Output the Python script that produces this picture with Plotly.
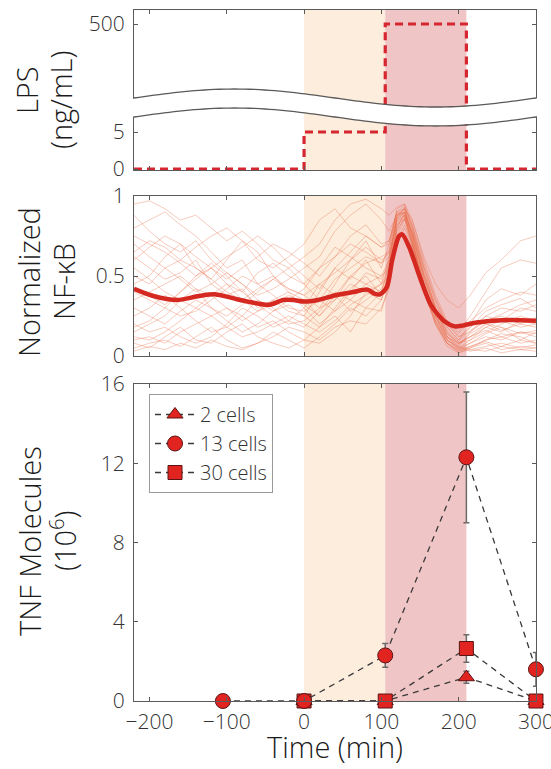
import math
import plotly.graph_objects as go

W, H = 551, 769

# ---------------- data ----------------
# LPS dose schedule (ng/mL)
lps_time = [-220, 0, 0, 105, 105, 210, 210, 300]
lps_conc = [0, 0, 5, 5, 500, 500, 0, 0]

# stimulation windows (min)
low_dose_window = [0, 105]
high_dose_window = [105, 210]

# single-cell NF-kB traces, sampled on a common time grid
cell_time = [-220, -200, -180, -160, -140, -120, -100, -80, -60, -40, -20, 0, 20, 40, 60, 80,
             100, 110, 120, 130, 140, 155, 170, 185, 200, 215, 235, 255, 280, 300]
cell_traces = [
    [0.95, 0.97, 0.92, 0.85, 0.88, 0.80, 0.72, 0.78, 0.70, 0.60, 0.55, 0.62, 0.70, 0.85, 0.95, 0.98, 0.92, 0.88, 0.93, 0.95, 0.85, 0.62, 0.45, 0.35, 0.30, 0.38, 0.52, 0.60, 0.72, 0.75],
    [0.62, 0.55, 0.48, 0.52, 0.60, 0.45, 0.38, 0.42, 0.30, 0.35, 0.28, 0.25, 0.40, 0.55, 0.48, 0.60, 0.45, 0.62, 0.88, 0.92, 0.78, 0.50, 0.28, 0.12, 0.05, 0.10, 0.18, 0.15, 0.22, 0.20],
    [0.05, 0.08, 0.10, 0.06, 0.12, 0.18, 0.10, 0.05, 0.08, 0.15, 0.10, 0.05, 0.12, 0.20, 0.30, 0.25, 0.35, 0.55, 0.82, 0.88, 0.72, 0.40, 0.20, 0.08, 0.03, 0.05, 0.08, 0.04, 0.06, 0.05],
    [0.45, 0.50, 0.62, 0.70, 0.55, 0.48, 0.60, 0.72, 0.65, 0.50, 0.42, 0.38, 0.30, 0.45, 0.60, 0.72, 0.55, 0.70, 0.90, 0.88, 0.70, 0.45, 0.25, 0.10, 0.06, 0.15, 0.25, 0.30, 0.28, 0.32],
    [0.30, 0.25, 0.20, 0.28, 0.35, 0.30, 0.22, 0.15, 0.20, 0.28, 0.32, 0.25, 0.18, 0.30, 0.42, 0.50, 0.38, 0.58, 0.85, 0.90, 0.75, 0.48, 0.30, 0.15, 0.08, 0.12, 0.20, 0.18, 0.10, 0.15],
    [0.80, 0.85, 0.90, 0.82, 0.75, 0.65, 0.55, 0.60, 0.45, 0.50, 0.40, 0.35, 0.25, 0.38, 0.50, 0.45, 0.40, 0.60, 0.86, 0.93, 0.82, 0.55, 0.30, 0.18, 0.10, 0.20, 0.35, 0.42, 0.38, 0.45],
    [0.15, 0.20, 0.25, 0.35, 0.42, 0.38, 0.30, 0.25, 0.18, 0.22, 0.15, 0.10, 0.08, 0.15, 0.25, 0.40, 0.45, 0.50, 0.78, 0.86, 0.68, 0.40, 0.22, 0.10, 0.04, 0.08, 0.12, 0.10, 0.15, 0.12],
    [0.55, 0.48, 0.40, 0.35, 0.30, 0.38, 0.45, 0.40, 0.52, 0.58, 0.50, 0.45, 0.55, 0.62, 0.70, 0.65, 0.58, 0.66, 0.92, 0.95, 0.80, 0.52, 0.32, 0.20, 0.12, 0.18, 0.25, 0.22, 0.30, 0.28],
    [0.10, 0.12, 0.08, 0.15, 0.20, 0.25, 0.30, 0.22, 0.28, 0.35, 0.40, 0.30, 0.20, 0.28, 0.35, 0.30, 0.28, 0.45, 0.75, 0.85, 0.78, 0.52, 0.30, 0.12, 0.06, 0.04, 0.06, 0.08, 0.05, 0.07],
    [0.70, 0.62, 0.55, 0.60, 0.68, 0.75, 0.80, 0.72, 0.60, 0.55, 0.62, 0.70, 0.85, 0.92, 0.80, 0.75, 0.68, 0.72, 0.90, 0.92, 0.85, 0.60, 0.38, 0.22, 0.15, 0.25, 0.40, 0.55, 0.60, 0.58],
    [0.25, 0.30, 0.38, 0.30, 0.22, 0.15, 0.18, 0.25, 0.35, 0.30, 0.22, 0.18, 0.28, 0.40, 0.35, 0.45, 0.50, 0.55, 0.80, 0.90, 0.74, 0.42, 0.20, 0.06, 0.02, 0.05, 0.10, 0.12, 0.08, 0.10],
    [0.40, 0.35, 0.30, 0.25, 0.28, 0.35, 0.42, 0.50, 0.45, 0.38, 0.30, 0.28, 0.35, 0.48, 0.55, 0.62, 0.58, 0.62, 0.84, 0.88, 0.70, 0.45, 0.25, 0.12, 0.08, 0.10, 0.15, 0.20, 0.25, 0.22],
    [0.08, 0.05, 0.12, 0.18, 0.10, 0.08, 0.15, 0.20, 0.12, 0.08, 0.05, 0.10, 0.18, 0.25, 0.15, 0.30, 0.40, 0.48, 0.72, 0.82, 0.70, 0.45, 0.25, 0.10, 0.05, 0.03, 0.05, 0.02, 0.04, 0.03],
    [0.88, 0.78, 0.70, 0.65, 0.72, 0.60, 0.52, 0.45, 0.38, 0.42, 0.48, 0.55, 0.62, 0.78, 0.88, 0.95, 0.85, 0.78, 0.88, 0.90, 0.78, 0.55, 0.35, 0.20, 0.12, 0.15, 0.22, 0.25, 0.20, 0.18],
    [0.35, 0.40, 0.45, 0.50, 0.42, 0.30, 0.25, 0.32, 0.40, 0.48, 0.55, 0.45, 0.35, 0.28, 0.40, 0.52, 0.48, 0.58, 0.86, 0.92, 0.76, 0.48, 0.28, 0.14, 0.08, 0.12, 0.18, 0.22, 0.18, 0.20],
    [0.20, 0.15, 0.18, 0.12, 0.08, 0.12, 0.20, 0.30, 0.25, 0.18, 0.22, 0.30, 0.45, 0.38, 0.28, 0.35, 0.42, 0.52, 0.80, 0.88, 0.72, 0.45, 0.22, 0.08, 0.04, 0.06, 0.10, 0.14, 0.12, 0.08],
    [0.60, 0.68, 0.75, 0.70, 0.62, 0.55, 0.48, 0.55, 0.62, 0.70, 0.65, 0.58, 0.50, 0.62, 0.75, 0.82, 0.70, 0.72, 0.90, 0.94, 0.82, 0.58, 0.36, 0.20, 0.14, 0.22, 0.30, 0.35, 0.40, 0.38],
    [0.03, 0.06, 0.04, 0.08, 0.05, 0.10, 0.06, 0.04, 0.08, 0.12, 0.18, 0.15, 0.10, 0.18, 0.22, 0.20, 0.30, 0.42, 0.70, 0.80, 0.68, 0.42, 0.22, 0.08, 0.02, 0.04, 0.03, 0.06, 0.04, 0.05],
    [0.50, 0.45, 0.55, 0.48, 0.40, 0.45, 0.52, 0.45, 0.35, 0.28, 0.35, 0.42, 0.55, 0.68, 0.62, 0.55, 0.50, 0.60, 0.86, 0.90, 0.74, 0.46, 0.26, 0.12, 0.07, 0.14, 0.20, 0.16, 0.20, 0.24],
    [0.18, 0.22, 0.30, 0.40, 0.50, 0.58, 0.50, 0.40, 0.32, 0.25, 0.20, 0.22, 0.30, 0.35, 0.45, 0.40, 0.35, 0.50, 0.78, 0.86, 0.72, 0.44, 0.24, 0.10, 0.05, 0.08, 0.14, 0.18, 0.14, 0.16],
    [0.75, 0.70, 0.65, 0.58, 0.50, 0.55, 0.62, 0.68, 0.75, 0.68, 0.58, 0.50, 0.42, 0.55, 0.65, 0.75, 0.68, 0.70, 0.88, 0.92, 0.80, 0.56, 0.34, 0.18, 0.10, 0.18, 0.28, 0.32, 0.36, 0.30],
    [0.12, 0.10, 0.15, 0.22, 0.30, 0.25, 0.18, 0.12, 0.15, 0.20, 0.25, 0.20, 0.15, 0.22, 0.32, 0.38, 0.45, 0.55, 0.82, 0.86, 0.70, 0.42, 0.20, 0.08, 0.03, 0.06, 0.09, 0.06, 0.10, 0.08],
    [0.42, 0.38, 0.32, 0.40, 0.48, 0.55, 0.45, 0.35, 0.28, 0.32, 0.38, 0.32, 0.25, 0.35, 0.50, 0.58, 0.62, 0.65, 0.88, 0.90, 0.76, 0.50, 0.30, 0.16, 0.09, 0.16, 0.22, 0.26, 0.32, 0.35],
    [0.65, 0.72, 0.68, 0.60, 0.55, 0.48, 0.40, 0.35, 0.42, 0.48, 0.42, 0.38, 0.45, 0.52, 0.60, 0.68, 0.60, 0.64, 0.84, 0.90, 0.76, 0.50, 0.30, 0.14, 0.08, 0.12, 0.16, 0.12, 0.15, 0.14],
]

# population mean NF-kB
mean_time = [-220, -195, -164, -136, -114, -91, -73, -45, -27, -14, 0, 18, 41, 64, 82, 91, 98,
             107, 114, 123, 127, 136, 150, 164, 182, 195, 205, 218, 245, 268, 300]
mean_nfkb = [0.42, 0.375, 0.35, 0.375, 0.385, 0.36, 0.34, 0.32, 0.35, 0.35, 0.34, 0.35, 0.38,
             0.40, 0.415, 0.39, 0.385, 0.43, 0.60, 0.75, 0.76, 0.68, 0.49, 0.32, 0.215, 0.185,
             0.19, 0.205, 0.22, 0.225, 0.22]

# secreted TNF (10^6 molecules)
tnf_2_time = [0, 105, 210, 300]
tnf_2_val = [0, 0, 1.2, 0]
tnf_2_err = [0, 0, 0.3, 0]

tnf_13_time = [-105, 0, 105, 210, 300]
tnf_13_val = [0, 0, 2.3, 12.3, 1.6]
tnf_13_err = [0, 0, 0.6, 3.3, 0.85]

tnf_30_time = [0, 105, 210, 300]
tnf_30_val = [0, 0, 2.65, 0]
tnf_30_err = [0, 0, 0.7, 0]

x_ticks = [-200, -100, 0, 100, 200, 300]
tnf_ticks = [0, 4, 8, 12, 16]
nfkb_ticks = [0, 0.5, 1]
nfkb_tick_text = ["0", "0.5", "1"]

# ---------------- layout helpers (pixel -> paper) ----------------
def fx(x):
    return x / W

def fy(y):
    return 1 - y / H

X_LEFT, X_RIGHT = 134, 536
FONT = "Open Sans, Liberation Sans, Arial, sans-serif"
AX_COL = "#5a5a5a"
TXT_COL = "#333333"
ORANGE_BAND = "rgb(252,237,221)"
RED_BAND = "rgb(240,197,197)"
LPS_RED = "rgb(214,38,48)"
MARK_RED = "rgb(226,36,33)"

fig = go.Figure()

# top panel: lower segment (y3) and upper segment (y4) share the LPS trace
for xa, ya in (("x3", "y3"), ("x4", "y4")):
    fig.add_trace(go.Scatter(
        x=lps_time, y=lps_conc, xaxis=xa, yaxis=ya, mode="lines",
        line=dict(color=LPS_RED, width=3.2, dash="8px,5px"),
        showlegend=False, hoverinfo="skip"))

# middle panel: single cells then the mean
for tr in cell_traces:
    fig.add_trace(go.Scatter(
        x=cell_time, y=tr, xaxis="x2", yaxis="y2", mode="lines",
        line=dict(color="rgba(232,110,72,0.45)", width=0.8),
        showlegend=False, hoverinfo="skip"))
fig.add_trace(go.Scatter(
    x=mean_time, y=mean_nfkb, xaxis="x2", yaxis="y2", mode="lines",
    line=dict(color="rgb(212,40,32)", width=4.5, shape="spline", smoothing=0.8),
    showlegend=False, hoverinfo="skip"))

# bottom panel: TNF secretion
err_style = dict(type="data", color="#6b6b6b", thickness=1.5, width=3, visible=True)
marker_line = dict(color="rgb(90,20,20)", width=1)
dash_line = dict(color="#3a3a3a", width=1.3, dash="6px,5px")

fig.add_trace(go.Scatter(
    x=tnf_2_time, y=tnf_2_val, mode="lines+markers", name="2 cells", legendrank=1,
    error_y=dict(array=tnf_2_err, **err_style), line=dash_line,
    marker=dict(symbol="triangle-up", size=14, color=MARK_RED, line=marker_line),
    cliponaxis=False))
fig.add_trace(go.Scatter(
    x=tnf_30_time, y=tnf_30_val, mode="lines+markers", name="30 cells", legendrank=3,
    error_y=dict(array=tnf_30_err, **err_style), line=dash_line,
    marker=dict(symbol="square", size=14, color=MARK_RED, line=marker_line),
    cliponaxis=False))
fig.add_trace(go.Scatter(
    x=tnf_13_time, y=tnf_13_val, mode="lines+markers", name="13 cells", legendrank=2,
    error_y=dict(array=tnf_13_err, **err_style), line=dash_line,
    marker=dict(symbol="circle", size=15, color=MARK_RED, line=marker_line),
    cliponaxis=False))

# ---------------- axes (fixed margins: no automargin) ----------------
tick_font = dict(family=FONT, size=21, color=TXT_COL, weight=300)
X_RANGE = [-220, 300.05]
xcommon = dict(range=X_RANGE, domain=[fx(X_LEFT), fx(X_RIGHT)], tickvals=x_ticks,
               ticks="inside", ticklen=4, tickcolor=AX_COL, linecolor=AX_COL, linewidth=1.2,
               showgrid=False, zeroline=False, tickfont=tick_font, automargin=False)
ycommon = dict(ticks="inside", ticklen=4, tickcolor=AX_COL, linecolor=AX_COL, linewidth=1.2,
               showgrid=False, zeroline=False, tickfont=tick_font, ticklabelstandoff=4,
               automargin=False)

fig.update_layout(
    xaxis=dict(**xcommon, anchor="y", showline=True, mirror="ticks", ticklabelstandoff=2,
               ticklabeloverflow="allow"),
    yaxis=dict(**ycommon, anchor="x", domain=[fy(701), fy(384)], range=[0, 16],
               tickvals=tnf_ticks, showline=True, mirror="ticks"),
    xaxis2=dict(**xcommon, anchor="y2", showline=True, mirror="ticks", showticklabels=False),
    yaxis2=dict(**ycommon, anchor="x2", domain=[fy(356), fy(196)], range=[0, 1],
                tickvals=nfkb_ticks, ticktext=nfkb_tick_text, showline=True, mirror="ticks"),
    xaxis3=dict(**xcommon, anchor="y3", showline=True, showticklabels=False),
    yaxis3=dict(**ycommon, anchor="x3", domain=[fy(170), fy(107)], range=[-0.135, 8.38],
                tickvals=[0, 5], showline=True, mirror="ticks"),
    xaxis4=dict(**xcommon, anchor="y4", side="top", showline=True, showticklabels=False),
    yaxis4=dict(**ycommon, anchor="x4", domain=[fy(108), fy(10)], range=[380, 520],
                tickvals=[500], showline=True, mirror="ticks"),
)

# ---------------- shaded stimulation windows ----------------
shapes = []
panels = [("x", "y domain"), ("x2", "y2 domain"), ("x3", "y3 domain"), ("x4", "y4 domain")]
for xr, yr in panels:
    shapes.append(dict(type="rect", xref=xr, yref=yr, x0=low_dose_window[0], x1=low_dose_window[1],
                       y0=0, y1=1, fillcolor=ORANGE_BAND, line=dict(width=0), layer="below"))
    shapes.append(dict(type="rect", xref=xr, yref=yr, x0=high_dose_window[0], x1=high_dose_window[1],
                       y0=0, y1=1, fillcolor=RED_BAND, line=dict(width=0), layer="below"))

# ---------------- broken-axis gap with wavy edges ----------------
GAP = 19
def wave_y(x):
    return 98 - 9 * math.sin(2 * math.pi * (x - X_LEFT) / (X_RIGHT - X_LEFT))

def wave_pts(x0, x1, off, n=80):
    return [(x0 + (x1 - x0) * i / n, wave_y(x0 + (x1 - x0) * i / n) + off) for i in range(n + 1)]

upper = wave_pts(X_LEFT - 4, X_RIGHT + 4, 0.6)
lower = wave_pts(X_LEFT - 4, X_RIGHT + 4, GAP - 0.6)
mask = "M " + " L ".join(f"{fx(x):.5f},{fy(y):.5f}" for x, y in upper)
mask += " L " + " L ".join(f"{fx(x):.5f},{fy(y):.5f}" for x, y in reversed(lower)) + " Z"
shapes.append(dict(type="path", xref="paper", yref="paper", path=mask,
                   fillcolor="white", line=dict(width=0), layer="above"))
for off in (0, GAP):
    pts = wave_pts(X_LEFT, X_RIGHT, off)
    path = "M " + " L ".join(f"{fx(x):.5f},{fy(y):.5f}" for x, y in pts)
    shapes.append(dict(type="path", xref="paper", yref="paper", path=path,
                       line=dict(color=AX_COL, width=1.3), layer="above"))

# ---------------- axis titles (one annotation per line) ----------------
title_font = dict(family=FONT, size=29, color="#1a1a1a", weight=300)
title_lines = [
    ("LPS", 26, 90), ("(ng/mL)", 60, 100),
    ("Normalized", 28, 282), ("NF-κB", 63, 282),
    ("TNF Molecules", 29, 541), ("(10<sup>6</sup>)", 63, 541),
]
annotations = [dict(text=t, x=fx(xc), y=fy(yc), xref="paper", yref="paper", textangle=-90,
                    showarrow=False, xanchor="center", yanchor="middle", font=title_font)
               for t, xc, yc in title_lines]
annotations.append(dict(text="Time (min)", x=fx(335), y=fy(767), xref="paper", yref="paper",
                        showarrow=False, xanchor="center", yanchor="bottom", borderpad=0,
                        font=title_font))

fig.update_layout(
    width=W, height=H, margin=dict(l=0, r=0, t=0, b=0, autoexpand=False),
    paper_bgcolor="white", plot_bgcolor="rgba(0,0,0,0)",
    shapes=shapes, annotations=annotations,
    font=dict(family=FONT, color=TXT_COL),
    legend=dict(x=fx(149), y=fy(394), xanchor="left", yanchor="top",
                bgcolor="white", bordercolor="#9a9a9a", borderwidth=1,
                font=dict(family=FONT, size=20, color=TXT_COL, weight=300),
                itemwidth=40, tracegroupgap=0, traceorder="normal"),
)

fig.write_html("out.html")
